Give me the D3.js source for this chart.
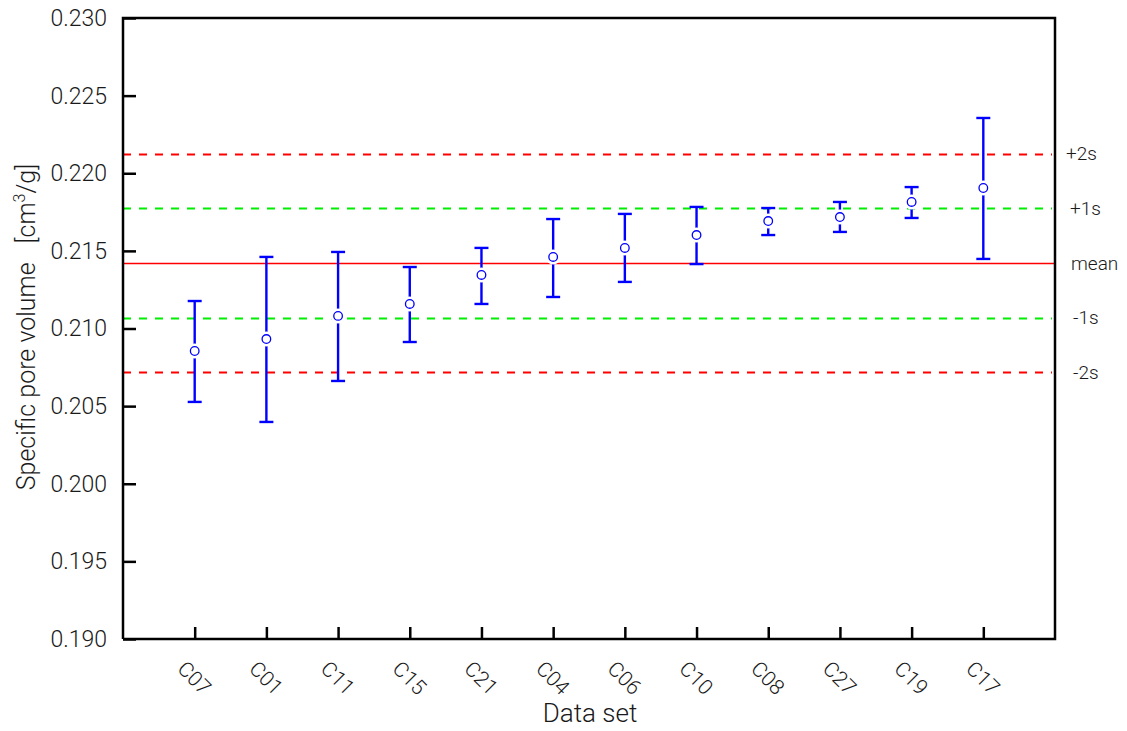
<!DOCTYPE html>
<html>
<head>
<meta charset="utf-8">
<script src="https://cdn.jsdelivr.net/npm/d3@7"></script>
<style>
  html, body { margin: 0; padding: 0; background: #fff; }
  svg { display: block; font-family: Roboto, "DejaVu Sans", sans-serif; }
</style>
</head>
<body>
<svg id="chart" width="1127" height="731"></svg>
<script>
// Data sets ordered by mean specific pore volume
const categories = ["C07", "C01", "C11", "C15", "C21", "C04", "C06", "C10", "C08", "C27", "C19", "C17"];
const means      = [0.20855, 0.20932, 0.21081, 0.21158, 0.21345, 0.21461, 0.21519, 0.21602, 0.21692, 0.21718, 0.21815, 0.21905];
const upper      = [0.21177, 0.21461, 0.21493, 0.21396, 0.21519, 0.21705, 0.21738, 0.21783, 0.21776, 0.21815, 0.21911, 0.22356];
const lower      = [0.20527, 0.20398, 0.20662, 0.20913, 0.21158, 0.21203, 0.21300, 0.21415, 0.21602, 0.21622, 0.21712, 0.21448];

// Overall mean and standard deviation bands
const grandMean = 0.21422;
const stdDev = 0.00352;
const bandLabels = ["+2s", "+1s", "mean", "-1s", "-2s"];
const bandFactors = [2, 1, 0, -1, -2];
const bandLabelX = [1066, 1070, 1071, 1073, 1073];

const yTicks = [0.190, 0.195, 0.200, 0.205, 0.210, 0.215, 0.220, 0.225, 0.230];

const svg = d3.select("#chart");
const L = 123, R = 1055, T = 18, B = 639;

const x = d3.scalePoint().domain(categories).range([L, R]).padding(1);
const y = d3.scaleLinear().domain([0.190, 0.230]).range([B, T]);

const textColor = "#1a1a1a";

// Reference lines
const bands = bandFactors.map((f, i) => ({ f, label: bandLabels[i], lx: bandLabelX[i], v: grandMean + f * stdDev }));
svg.append("g").selectAll("line").data(bands).join("line")
  .attr("x1", L).attr("x2", d => d.f === 0 ? R : R - 3)
  .attr("y1", d => Math.round(y(d.v)) + 0.5).attr("y2", d => Math.round(y(d.v)) + 0.5)
  .attr("stroke", d => Math.abs(d.f) === 1 ? "#00ee00" : "#ff0000")
  .attr("stroke-width", d => d.f === 0 ? 1.3 : 2)
  .attr("stroke-dasharray", d => d.f === 0 ? null : "8,8");

svg.append("g").selectAll("text").data(bands).join("text")
  .attr("x", d => d.lx).attr("y", d => y(d.v))
  .attr("dy", "0.35em")
  .attr("font-size", 19).attr("font-weight", 300).attr("fill", textColor)
  .text(d => d.label);

// Error bars
const rows = categories.map((c, i) => ({ c, m: means[i], hi: upper[i], lo: lower[i] }));
const eb = svg.append("g").attr("stroke", "#0000ff").attr("stroke-width", 2.4);
eb.selectAll("line.v").data(rows).join("line").attr("class", "v")
  .attr("x1", d => x(d.c)).attr("x2", d => x(d.c))
  .attr("y1", d => y(d.hi)).attr("y2", d => y(d.lo));
eb.selectAll("line.t").data(rows).join("line").attr("class", "t")
  .attr("x1", d => x(d.c) - 7).attr("x2", d => x(d.c) + 7)
  .attr("y1", d => y(d.hi)).attr("y2", d => y(d.hi));
eb.selectAll("line.b").data(rows).join("line").attr("class", "b")
  .attr("x1", d => x(d.c) - 7).attr("x2", d => x(d.c) + 7)
  .attr("y1", d => y(d.lo)).attr("y2", d => y(d.lo));

// Mean markers with a white halo
svg.append("g").selectAll("circle").data(rows).join("circle")
  .attr("cx", d => x(d.c)).attr("cy", d => y(d.m)).attr("r", 7.5)
  .attr("fill", "#fff");
svg.append("g").selectAll("circle").data(rows).join("circle")
  .attr("cx", d => x(d.c)).attr("cy", d => y(d.m)).attr("r", 4.3)
  .attr("fill", "#fff").attr("stroke", "#0000ff").attr("stroke-width", 1.3);

// Frame
svg.append("path")
  .attr("d", `M${L},${B}V${T}H${R}V${B}H${L}`)
  .attr("fill", "none").attr("stroke", "#000").attr("stroke-width", 2.5);

// Y axis (ticks inward)
const yAxis = d3.axisLeft(y).tickValues(yTicks).tickFormat(d3.format(".3f")).tickSize(-13).tickPadding(16);
const gy = svg.append("g").attr("transform", `translate(${L},0)`).call(yAxis);
gy.select(".domain").remove();
gy.selectAll(".tick line").attr("stroke", "#000").attr("stroke-width", 2.5);
gy.selectAll(".tick text").attr("font-size", 23).attr("font-weight", 300)
  .attr("fill", textColor).attr("font-family", "Roboto, sans-serif");

// X axis (ticks inward, rotated labels)
const xAxis = d3.axisBottom(x).tickSize(-12).tickPadding(0);
const gx = svg.append("g").attr("transform", `translate(0,${B})`).call(xAxis);
gx.select(".domain").remove();
gx.selectAll(".tick line").attr("stroke", "#000").attr("stroke-width", 2.5);
gx.selectAll(".tick text")
  .attr("font-size", 21).attr("font-weight", 300).attr("fill", textColor)
  .attr("font-family", "Roboto, sans-serif")
  .attr("text-anchor", "start").attr("dy", 0).attr("y", 0)
  .attr("transform", "translate(-19,31) rotate(45)");

// Axis titles
svg.append("text")
  .attr("x", (L + R) / 2 + 1).attr("y", 722)
  .attr("text-anchor", "middle").attr("font-size", 26).attr("font-weight", 300).attr("fill", textColor)
  .text("Data set");

const yt = svg.append("text")
  .attr("transform", "translate(35,327) rotate(-90)")
  .attr("text-anchor", "middle").attr("font-size", 25).attr("font-weight", 300).attr("fill", textColor);
yt.append("tspan").text("Specific pore volume\u2002 [cm");
yt.append("tspan").attr("font-size", 16).attr("dy", -10).text("3");
yt.append("tspan").attr("dy", 10).text("/g]");
</script>
</body>
</html>
